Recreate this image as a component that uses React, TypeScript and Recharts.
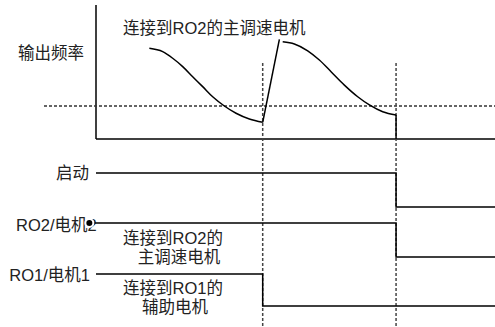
import React from 'react'
import { ComposedChart, Line, XAxis, YAxis, ReferenceLine } from 'recharts'

// output frequency (Hz) over time (s)
const decelTimes = [3.2, 4.0, 4.6, 5.2, 5.8, 6.4, 7.0, 7.7, 8.4, 9.2, 10.0]
const decelFreq = [41.2, 39.7, 36.7, 32.9, 28.3, 23.8, 19.2, 15.0, 11.7, 9.1, 7.6]
const riseTimes = [10.0, 11.0]
const riseFreq = [7.6, 45.3]
const mainTimes = [11.2, 11.9, 12.7, 13.4, 14.1, 14.9, 15.7, 16.4, 17.2, 18.0]
const mainFreq = [44.2, 43.2, 40.1, 35.9, 30.6, 24.5, 19.2, 15.5, 12.4, 10.9]
const stopTimes = [18.0, 18.0]
const stopFreq = [10.9, 0]

const thresholdFreq = 15
const switchTimes = [10, 18]

// relay / run signals (1 = on, 0 = off)
const runTimes = [0, 18, 24]
const runLevels = [1, 0, 0]
const ro2Times = [-0.4, 18, 24]
const ro2Levels = [1, 0, 0]
const ro1Times = [0, 10, 24]
const ro1Levels = [1, 0, 0]

const zip = (ts: number[], vs: number[]) => ts.map((t, i) => ({ t, v: vs[i] }))

const W = 495
const H = 327
const X0 = 96
const PX_PER_T = 16.67
const T_MIN = -X0 / PX_PER_T
const T_MAX = (W - X0) / PX_PER_T

const F0_Y = 139
const PX_PER_HZ = 2.2
const F_MAX = F0_Y / PX_PER_HZ
const F_MIN = -(H - F0_Y) / PX_PER_HZ
const F_AXIS_TOP = (F0_Y - 5) / PX_PER_HZ
const F_MARK_TOP = (F0_Y - 63) / PX_PER_HZ
const T_THRESH_START = (44 - X0) / PX_PER_T

// pixel rows for high/low of each signal channel
const channelDomain = (yHigh: number, yLow: number): [number, number] => {
  const span = H / (yLow - yHigh)
  const max = (yLow / H) * span
  return [max - span, max]
}

const font = "'Liberation Sans', Arial, 'Noto Sans CJK SC', sans-serif"
const ink = '#000'
const txt = '#222'

const App = () => {
  const textProps = { fontFamily: font, fontSize: 16.5, fill: txt, dy: '0.35em' }
  return (
    <div style={{ position: 'absolute', left: 0, top: 0 }}>
      <ComposedChart width={W} height={H} margin={{ top: 0, right: 0, bottom: 0, left: 0 }}>
        <XAxis type="number" dataKey="t" domain={[T_MIN, T_MAX]} hide allowDataOverflow />
        <YAxis yAxisId="freq" type="number" domain={[F_MIN, F_MAX]} hide allowDataOverflow />
        <YAxis yAxisId="run" type="number" domain={channelDomain(173, 207)} hide allowDataOverflow />
        <YAxis yAxisId="ro2" type="number" domain={channelDomain(223, 257)} hide allowDataOverflow />
        <YAxis yAxisId="ro1" type="number" domain={channelDomain(274, 306)} hide allowDataOverflow />

        <ReferenceLine yAxisId="freq" segment={[{ x: 0, y: 0 }, { x: 0, y: F_AXIS_TOP }]} stroke={ink} strokeWidth={1.5} />
        <ReferenceLine yAxisId="freq" segment={[{ x: 0, y: 0 }, { x: T_MAX, y: 0 }]} stroke={ink} strokeWidth={1.5} />
        <ReferenceLine yAxisId="freq" segment={[{ x: T_THRESH_START, y: thresholdFreq }, { x: T_MAX, y: thresholdFreq }]}
          stroke="#333" strokeWidth={1.3} strokeDasharray="3 2" />
        {switchTimes.map((s) => (
          <ReferenceLine key={s} yAxisId="freq" segment={[{ x: s, y: F_MARK_TOP }, { x: s, y: F_MIN }]}
            stroke="#444" strokeWidth={1.5} strokeDasharray="3 2" />
        ))}

        <Line yAxisId="freq" data={zip(decelTimes, decelFreq)} dataKey="v" type="monotone" stroke={ink} strokeWidth={1.5} dot={false} isAnimationActive={false} />
        <Line yAxisId="freq" data={zip(riseTimes, riseFreq)} dataKey="v" type="linear" stroke={ink} strokeWidth={1.5} dot={false} isAnimationActive={false} />
        <Line yAxisId="freq" data={zip(mainTimes, mainFreq)} dataKey="v" type="monotone" stroke={ink} strokeWidth={1.5} dot={false} isAnimationActive={false} />
        <Line yAxisId="freq" data={zip(stopTimes, stopFreq)} dataKey="v" type="linear" stroke={ink} strokeWidth={1.5} dot={false} isAnimationActive={false} />

        <Line yAxisId="run" data={zip(runTimes, runLevels)} dataKey="v" type="stepAfter" stroke={ink} strokeWidth={1.5} dot={false} isAnimationActive={false} />
        <Line yAxisId="ro2" data={zip(ro2Times, ro2Levels)} dataKey="v" type="stepAfter" stroke={ink} strokeWidth={1.5} dot={false} isAnimationActive={false} />
        <Line yAxisId="ro1" data={zip(ro1Times, ro1Levels)} dataKey="v" type="stepAfter" stroke={ink} strokeWidth={1.5} dot={false} isAnimationActive={false} />

        <text x={18} y={53} {...textProps}>输出频率</text>
        <text x={123} y={28} {...textProps}>连接到RO2的主调速电机</text>
        <text x={89} y={173} textAnchor="end" {...textProps}>启动</text>
        <text x={16} y={225} {...textProps}>RO2/电机2</text>
        <text x={90} y={275} textAnchor="end" {...textProps}>RO1/电机1</text>
        <text x={173} y={238} textAnchor="middle" {...textProps}>连接到RO2的</text>
        <text x={179} y={257} textAnchor="middle" {...textProps}>主调速电机</text>
        <text x={173} y={288} textAnchor="middle" {...textProps}>连接到RO1的</text>
        <text x={175} y={307} textAnchor="middle" {...textProps}>辅助电机</text>
      </ComposedChart>
    </div>
  )
}

export default App
